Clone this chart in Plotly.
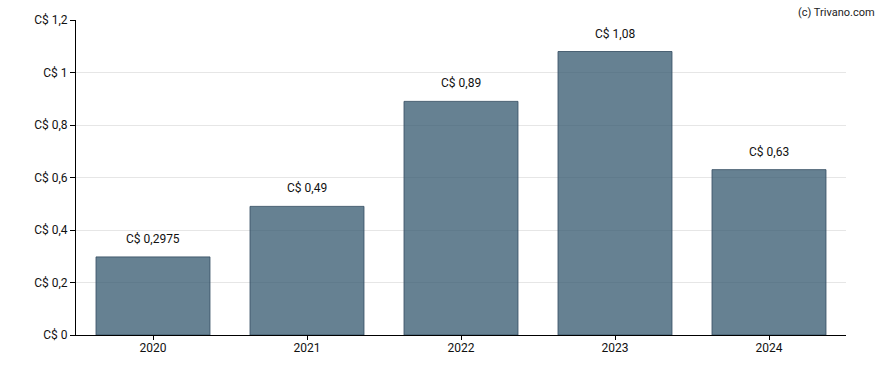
import plotly.graph_objects as go

years = ["2020", "2021", "2022", "2023", "2024"]
values = [0.2975, 0.49, 0.89, 1.08, 0.63]
labels = ["C&#36; 0,2975", "C&#36; 0,49", "C&#36; 0,89", "C&#36; 1,08", "C&#36; 0,63"]
y_ticks = [0, 0.2, 0.4, 0.6, 0.8, 1.0, 1.2]
y_ticktext = ["C&#36; 0", "C&#36; 0,2", "C&#36; 0,4", "C&#36; 0,6", "C&#36; 0,8", "C&#36; 1", "C&#36; 1,2"]

fig = go.Figure()
fig.add_trace(go.Bar(
    x=years, y=values, width=0.74,
    marker=dict(color="rgba(51,87,110,0.75)",
                line=dict(color="rgba(55,80,100,0.85)", width=1)),
    hoverinfo="skip",
))

for i, (v, t) in enumerate(zip(values, labels)):
    fig.add_annotation(x=i, y=v, text=t, showarrow=False, yanchor="bottom",
                       yshift=9, font=dict(size=12, color="#111111"))

fig.add_annotation(xref="paper", yref="paper", x=1.04, y=1.0, xanchor="right", yanchor="bottom",
                   yshift=-1, text="(c) Trivano.com", showarrow=False,
                   font=dict(size=11, color="#222222"))

fig.update_layout(
    width=888, height=370,
    margin=dict(l=76, r=42, t=20, b=35),
    paper_bgcolor="white", plot_bgcolor="white",
    separators=",.",
    font=dict(family="Roboto, Arial, sans-serif", size=12, color="#111111"),
    showlegend=False,
)
fig.update_xaxes(
    type="category", range=[-0.5, 4.5],
    showline=True, linecolor="black", linewidth=1,
    ticks="outside", ticklen=4, tickcolor="black",
    ticklabelstandoff=-2,
    showgrid=False, tickfont=dict(size=12),
)
fig.update_yaxes(
    range=[0, 1.2], tickvals=y_ticks, ticktext=y_ticktext,
    showline=True, linecolor="black", linewidth=1,
    ticks="outside", ticklen=5, tickcolor="black",
    showgrid=True, gridcolor="#e6e6e6", gridwidth=1,
    zeroline=False, tickfont=dict(size=12),
)

fig.write_html("out.html", config={"displayModeBar": False},
               post_script="document.body.style.margin='0';document.body.style.padding='0';")
